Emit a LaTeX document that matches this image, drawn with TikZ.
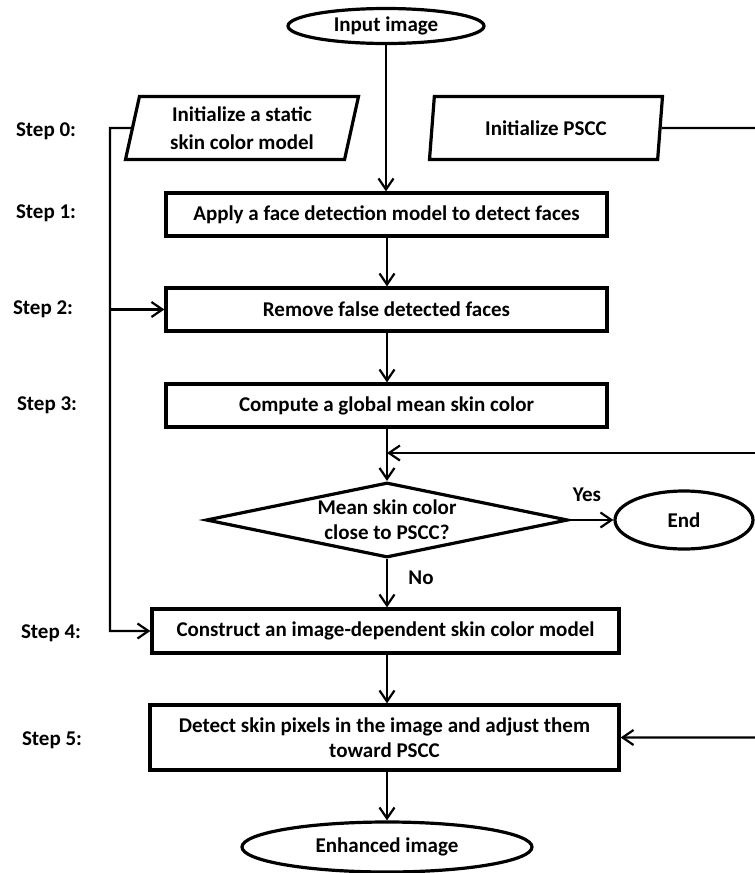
\documentclass[tikz,border=0pt]{standalone}
\usepackage{fontspec}
\setmainfont{Carlito}
\usetikzlibrary{arrows.meta,shapes.geometric}
\begin{document}
\begin{tikzpicture}[x=1pt,y=-1pt,
  font=\bfseries\fontsize{21}{25}\selectfont,
  conn/.style={line width=2.2pt},
  arr/.style={conn,-{Straight Barb[length=11pt,width=15pt,line width=2.2pt]}},
  box/.style={draw,line width=3.2pt,rectangle,inner sep=0pt,minimum height=43pt,align=center},
  oval/.style={draw,line width=3.2pt,ellipse,inner sep=0pt,align=center},
  para/.style={draw,line width=3.2pt,trapezium,trapezium left angle=72,trapezium right angle=108,
    trapezium stretches body,inner sep=0pt,minimum width=233pt,minimum height=63pt,align=center,
    font=\bfseries\fontsize{21}{28}\selectfont},
  dia/.style={draw,line width=3.2pt,diamond,aspect=4.83,inner sep=0pt,minimum width=362pt,minimum height=75pt,align=center},
  steplabel/.style={inner sep=0pt}
]
\useasboundingbox (0,0) rectangle (755,873);

% step labels
\node[steplabel] (s0) at (46,131) {Step 0:};
\node[steplabel] (s1) at (46,213) {Step 1:};
\node[steplabel] (s2) at (43,309) {Step 2:};
\node[steplabel] (s3) at (47,405) {Step 3:};
\node[steplabel] (s4) at (51,633) {Step 4:};
\node[steplabel] (s5) at (52,740) {Step 5:};

% flowchart shapes
\node[oval,minimum width=196pt,minimum height=35pt] (in) at (386,26) {Input image};
\node[para] (stat) at (242,128) {Initialize a static\\skin color model};
\node[para] (pscc) at (546,128) {Initialize PSCC};
\node[box,minimum width=441pt] (apply) at (386.5,214.5) {Apply a face detection model to detect faces};
\node[box,minimum width=441pt] (remove) at (386.5,309.5) {Remove false detected faces};
\node[box,minimum width=441pt] (mean) at (386.5,405.5) {Compute a global mean skin color};
\node[dia] (dec) at (387,520) {Mean skin color\\close to PSCC?};
\node[oval,minimum width=138pt,minimum height=58pt] (end) at (684,520) {End};
\node[box,minimum width=467pt,minimum height=44pt] (construct) at (385.5,631) {Construct an image-dependent skin color model};
\node[box,minimum width=469pt,minimum height=65pt] (detect) at (384.5,737.5) {Detect skin pixels in the image and adjust them\\toward PSCC};
\node[oval,minimum width=290pt,minimum height=50pt] (enh) at (387,847) {Enhanced image};

% branch labels
\node (yes) at (587,495) {Yes};
\node (no) at (421,578) {No};

% main flow
\draw[arr] (in.south) -- (in.south |- apply.north);
\draw[arr] (apply.south -| dec) -- (remove.north -| dec);
\draw[arr] (remove.south -| dec) -- (mean.north -| dec);
\draw[arr] (mean.south -| dec) -- (dec.north);
\draw[arr] (dec.east) -- (end.west);
\draw[arr] (dec.south) -- (construct.north -| dec);
\draw[arr] (construct.south -| dec) -- (detect.north -| dec);
\draw[arr] (detect.south -| dec) -- (enh.north);

% static model feeds steps 2 and 4
\coordinate (lb) at (110,128);
\draw[arr] (stat.west) -- (lb) |- (construct.west);
\draw[arr] (lb |- remove.west) -- (remove.west);

% PSCC feeds the test and the adjustment
\coordinate (rb) at (775,128);
\coordinate (fb) at (387,453);
\draw[arr] (pscc.east) -- (rb) |- (detect.east);
\draw[arr] (rb |- fb) -- (fb);
\end{tikzpicture}
\end{document}
